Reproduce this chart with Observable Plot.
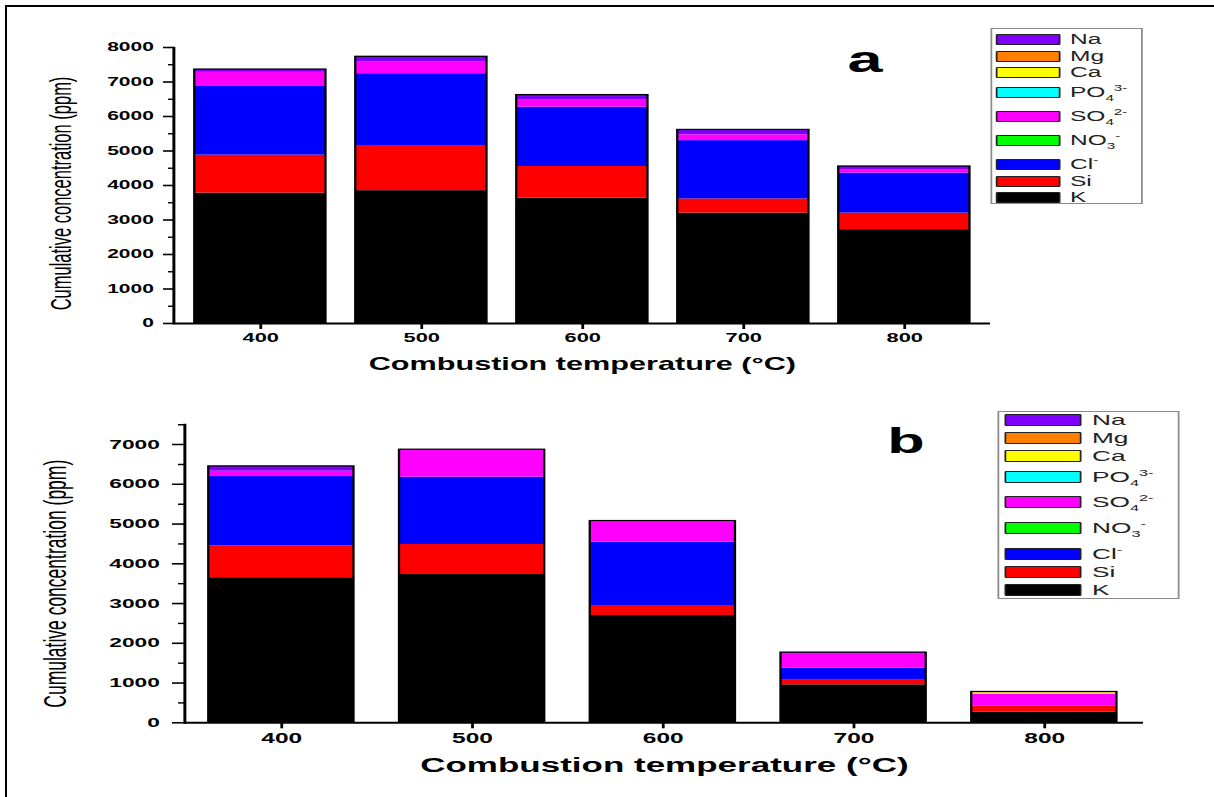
<!DOCTYPE html>
<html><head><meta charset="utf-8">
<script src="https://cdn.jsdelivr.net/npm/d3@7"></script>
<script src="https://cdn.jsdelivr.net/npm/@observablehq/plot@0.6"></script>
<style>
html,body{margin:0;padding:0;background:#fff;width:1214px;height:797px;overflow:hidden;}
#frame{position:absolute;left:5px;top:5px;width:1214px;height:797px;border-top:2px solid #000;border-left:2px solid #000;}
#stretch{position:absolute;left:0;top:0;height:797px;transform-origin:0 0;}
.panel{position:absolute;left:0;}
.legend{position:absolute;border:1.5px solid #8a8a8a;background:#fff;box-sizing:border-box;}
.sw{position:absolute;border:1.3px solid #222;box-sizing:border-box;border-radius:1px;}
.lt{position:absolute;font-family:"Liberation Sans",Arial,sans-serif;color:#222;white-space:nowrap;}
.lt sub,.lt sup{font-size:62%;line-height:0;}
.tag{position:absolute;font-family:"Liberation Sans",Arial,sans-serif;font-weight:bold;line-height:1;transform:translateX(-50%);}
</style></head><body>
<div id="frame"></div>
<div id="stretch"></div>
<script>
// ---------- data ----------
const temps = ["400", "500", "600", "700", "800"];
const ions = ["K", "Si", "Cl", "NO3", "SO4", "PO4", "Ca", "Mg", "Na"];
const ionColors = ["#000000", "#ff0000", "#0000ff", "#00ff00", "#ff00ff", "#00ffff", "#ffff00", "#ff8000", "#8000ff"];
const ionLabels = ["K", "Si", "Cl<sup>-</sup>", "NO<sub>3</sub><sup>-</sup>", "SO<sub>4</sub><sup>2-</sup>", "PO<sub>4</sub><sup>3-</sup>", "Ca", "Mg", "Na"];

// panel a (ppm)
const aK   = [3780, 3850, 3630, 3200, 2720];
const aSi  = [1100, 1310,  920,  410,  480];
const aCl  = [1990, 2080, 1720, 1690, 1160];
const aNO3 = [0, 0, 0, 0, 0];
const aSO4 = [ 410,  350,  220,  170,  100];
const aPO4 = [0, 0, 0, 0, 0];
const aCa  = [0, 0, 0, 0, 0];
const aMg  = [0, 0, 0, 0, 0];
const aNa  = [  80,  140,  130,  140,   90];

// panel b (ppm)
const bK   = [3650, 3730, 2700,  955,  270];
const bSi  = [ 800,  755,  250,  135,  140];
const bCl  = [1745, 1695, 1595,  285,   10];
const bNO3 = [0, 0, 0, 0, 0];
const bSO4 = [ 135,  670,  510,  370,  300];
const bPO4 = [0, 0, 0, 0, 0];
const bCa  = [0, 0, 0, 0, 35];
const bMg  = [0, 0, 0, 0, 20];
const bNa  = [ 120,   20,   20,   20,    0];

const aTicks = d3.range(0, 8001, 1000);
const bTicks = d3.range(0, 7001, 1000);

// ---------- layout ----------
const S = 1.75;               // the reference figure is stretched horizontally
const W = 1214 / S;
const stretch = document.getElementById("stretch");
stretch.style.width = W + "px";
stretch.style.transform = `scaleX(${S})`;

function toRows(series) {
  return ions.flatMap((ion, k) => temps.map((t, i) => ({temp: t, ion, value: series[k][i]})));
}
function totals(series) {
  return temps.map((t, i) => ({temp: t, total: d3.sum(series, s => s[i])}));
}
const aSeries = [aK, aSi, aCl, aNO3, aSO4, aPO4, aCa, aMg, aNa];
const bSeries = [bK, bSi, bCl, bNO3, bSO4, bPO4, bCa, bMg, bNa];

const FONT = "'Liberation Sans', Arial, Helvetica, sans-serif";

function panel(o) {
  const rows = toRows(o.series);
  const tot = totals(o.series);
  const svg = Plot.plot({
    width: W, height: 400,
    marginLeft: o.left / S, marginRight: (1214 - o.right) / S,
    marginTop: o.mt, marginBottom: o.mb,
    style: {background: "transparent", fontFamily: FONT, color: "#000"},
    x: {type: "band", domain: temps, paddingInner: o.pI, paddingOuter: o.pO, axis: null},
    y: {domain: [0, o.ymax], axis: null},
    color: {domain: ions, range: ionColors},
    marks: [
      Plot.barY(rows, {x: "temp", y: "value", fill: "ion", order: ions}),
      Plot.barY(tot, {x: "temp", y: "total", fill: "none", stroke: "#000", strokeWidth: 1.3}),
      Plot.axisY({ticks: o.ticks, tickFormat: d3.format("d"), tickSize: o.tick / S, tickPadding: o.pad / S, strokeWidth: 1.6,
                  fontSize: o.yfs, fontWeight: "bold", label: null}),
      Plot.axisY({ticks: o.ticks.map(v => v + 500).filter(v => v <= o.ymax), tickSize: o.tick / 2 / S,
                  tickFormat: () => "", strokeWidth: 1.4, label: null}),
      Plot.axisX({tickSize: 6, tickPadding: 4, strokeWidth: 1.6, fontSize: o.xfs, fontWeight: "bold", label: null}),
      Plot.ruleY([0], {strokeWidth: 2}),
      Plot.frame({anchor: "left", strokeWidth: 1.7}),
      Plot.text(["Combustion temperature (°C)"], {text: d => d, frameAnchor: "bottom", lineAnchor: "middle",
                  dy: o.xtdy, fontSize: o.xtfs, fontWeight: "bold"}),
      Plot.text(["Cumulative concentration (ppm)"], {text: d => d, frameAnchor: "left", rotate: -90,
                  lineAnchor: "middle", textAnchor: "middle", dx: (o.ytx - o.left) / S, dy: o.ytdy, fontSize: o.ytfs})
    ]
  });
  svg.classList.add("panel");
  svg.style.top = o.top + "px";
  stretch.appendChild(svg);
}

panel({series: aSeries, top: 0, left: 173, right: 990, mt: 47, mb: 77, ymax: 8000, ticks: aTicks,
       pI: 0.18, pO: 0.1, tick: 10, pad: 10, yfs: 12, xfs: 12.5, xtdy: 41, xtfs: 17.5, ytx: 61, ytdy: 8, ytfs: 16.5});
panel({series: bSeries, top: 400, left: 184, right: 1143, mt: 24.2, mb: 77.7, ymax: 7500, ticks: bTicks,
       pI: 0.234, pO: 0.117, tick: 12, pad: 13, yfs: 13, xfs: 14, xtdy: 43, xtfs: 20, ytx: 55, ytdy: 10, ytfs: 17.5});

// ---------- legends ----------
function legend(o) {
  const box = document.createElement("div");
  box.className = "legend";
  Object.assign(box.style, {left: o.x0 / S + "px", top: o.y0 + "px", width: (o.x1 - o.x0) / S + "px", height: (o.y1 - o.y0) + "px"});
  stretch.appendChild(box);
  const order = d3.range(ions.length).reverse();
  order.forEach((k, r) => {
    const cy = o.rowY[r];
    const sw = document.createElement("div");
    sw.className = "sw";
    Object.assign(sw.style, {left: o.sx / S + "px", top: (cy - o.sh / 2) + "px", width: o.sw / S + "px", height: o.sh + "px", background: ionColors[k]});
    stretch.appendChild(sw);
    const t = document.createElement("div");
    t.className = "lt";
    t.innerHTML = ionLabels[k];
    Object.assign(t.style, {left: o.tx / S + "px", top: (cy - 10) + "px", height: "20px", lineHeight: "20px", fontSize: o.fs + "px"});
    stretch.appendChild(t);
  });
}
legend({x0: 991, x1: 1143, y0: 28, y1: 204, sx: 995, sw: 66, sh: 11, tx: 1070, fs: 14,
        rowY: [39, 56, 72, 92, 116, 140, 164, 181, 197]});
legend({x0: 997, x1: 1179, y0: 411, y1: 599, sx: 1005, sw: 76, sh: 12, tx: 1092, fs: 15,
        rowY: [420, 438, 456, 477, 502, 528, 554, 572, 590]});

// ---------- panel tags ----------
function tag(txt, cx, top, fs) {
  const d = document.createElement("div");
  d.className = "tag";
  d.textContent = txt;
  Object.assign(d.style, {left: cx / S + "px", top: top + "px", fontSize: fs + "px"});
  stretch.appendChild(d);
}
tag("a", 865, 41.5, 36);
tag("b", 906, 422.5, 35);
</script>
</body></html>
